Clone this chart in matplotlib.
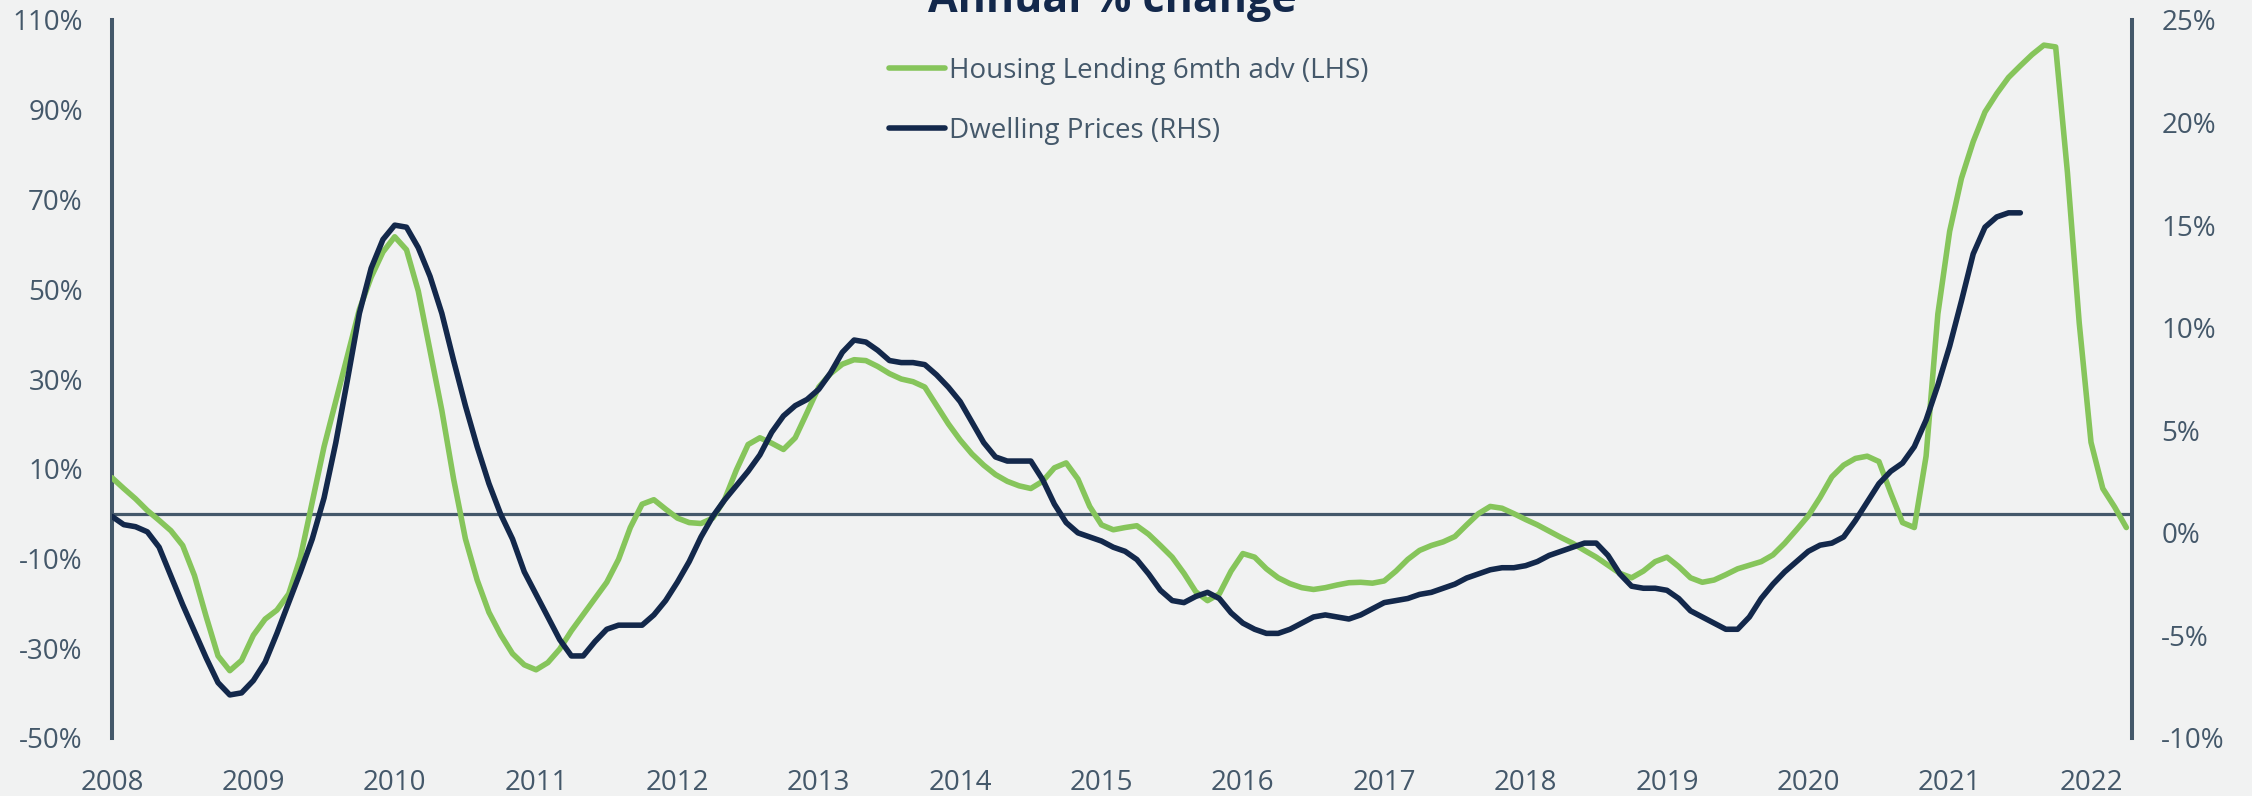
import numpy as np
import matplotlib
matplotlib.use('Agg')
import matplotlib.pyplot as plt

plt.rcParams['font.family'] = ['Open Sans', 'DejaVu Sans']

# monthly readings, first point = Jan 2008
lending = [8.0, 5.6, 3.3, 0.7, -1.5, -3.8, -7.1, -13.8, -23.0, -31.7, -35.0, -32.7,
           -27.1, -23.5, -21.5, -17.9, -9.7, 2.6, 14.9, 25.1, 35.3, 45.5, 52.7, 58.3,
           61.7, 58.8, 49.6, 36.3, 23.0, 7.7, -5.6, -14.8, -22.0, -27.0, -31.2, -33.7,
           -34.8, -33.2, -30.2, -26.1, -22.5, -18.9, -15.3, -10.2, -3.1, 2.1, 3.1, 1.0,
           -1.0, -2.0, -2.2, -1.0, 3.1, 9.7, 15.4, 16.9, 15.7, 14.3, 16.9, 22.5,
           28.2, 31.2, 33.3, 34.3, 34.1, 32.8, 31.2, 30.0, 29.4, 28.2, 24.1, 20.0,
           16.4, 13.3, 10.8, 8.7, 7.2, 6.2, 5.6, 7.2, 10.2, 11.3, 7.7, 1.6,
           -2.5, -3.6, -3.1, -2.7, -4.6, -7.1, -9.7, -13.3, -17.4, -19.4, -17.9, -12.8,
           -8.9, -9.7, -12.3, -14.3, -15.6, -16.5, -16.9, -16.5, -15.9, -15.4, -15.3, -15.5,
           -15.0, -12.8, -10.2, -8.2, -7.1, -6.3, -5.1, -2.5, 0.0, 1.6, 1.2, 0.0,
           -1.3, -2.5, -3.9, -5.3, -6.6, -8.2, -9.7, -11.5, -13.3, -14.3, -12.8, -10.7,
           -9.7, -11.8, -14.3, -15.3, -14.8, -13.6, -12.3, -11.5, -10.7, -9.2, -6.6, -3.6,
           -0.5, 3.6, 8.2, 10.8, 12.3, 12.8, 11.6, 4.6, -2.0, -3.1, 12.8, 44.5,
           62.9, 74.7, 82.9, 89.5, 93.6, 97.2, 99.8, 102.3, 104.4, 104.0, 76.0, 42.5,
           15.9, 5.6, 1.5, -3.1]

prices = [0.8, 0.4, 0.3, 0.05, -0.7, -2.1, -3.5, -4.8, -6.1, -7.3, -7.9, -7.8,
          -7.2, -6.3, -4.9, -3.4, -1.9, -0.3, 1.7, 4.4, 7.5, 10.7, 12.9, 14.3,
          15.0, 14.9, 13.9, 12.5, 10.7, 8.4, 6.2, 4.2, 2.4, 0.9, -0.3, -1.9,
          -3.0, -4.1, -5.2, -6.0, -6.0, -5.3, -4.7, -4.5, -4.5, -4.5, -4.0, -3.3,
          -2.4, -1.4, -0.2, 0.8, 1.6, 2.3, 3.0, 3.8, 4.9, 5.7, 6.2, 6.5,
          7.0, 7.8, 8.8, 9.4, 9.3, 8.9, 8.4, 8.3, 8.3, 8.2, 7.7, 7.1,
          6.4, 5.4, 4.4, 3.7, 3.5, 3.5, 3.5, 2.6, 1.4, 0.5, 0.0, -0.2,
          -0.4, -0.7, -0.9, -1.3, -2.0, -2.8, -3.3, -3.4, -3.1, -2.9, -3.2, -3.9,
          -4.4, -4.7, -4.9, -4.9, -4.7, -4.4, -4.1, -4.0, -4.1, -4.2, -4.0, -3.7,
          -3.4, -3.3, -3.2, -3.0, -2.9, -2.7, -2.5, -2.2, -2.0, -1.8, -1.7, -1.7,
          -1.6, -1.4, -1.1, -0.9, -0.7, -0.5, -0.5, -1.1, -2.0, -2.6, -2.7, -2.7,
          -2.8, -3.2, -3.8, -4.1, -4.4, -4.7, -4.7, -4.1, -3.2, -2.5, -1.9, -1.4,
          -0.9, -0.6, -0.5, -0.2, 0.6, 1.5, 2.4, 3.0, 3.4, 4.2, 5.5, 7.2,
          9.1, 11.3, 13.6, 14.9, 15.4, 15.6, 15.6]

years = list(range(2008, 2023))
left_ticks = [-50, -30, -10, 10, 30, 50, 70, 90, 110]
right_ticks = [-10, -5, 0, 5, 10, 15, 20, 25]

bg = '#F1F2F2'
green = '#86C55B'
navy = '#13284B'
grey = '#44586A'

x_lend = 2008 + np.arange(len(lending)) / 12
x_price = 2008 + np.arange(len(prices)) / 12

fig = plt.figure(figsize=(22.52, 7.96), dpi=100, facecolor=bg)
ax = fig.add_axes([112 / 2252, 1 - 738 / 796, (2132 - 112) / 2252, 718 / 796])
ax.set_facecolor(bg)
ax2 = ax.twinx()

ax.axhline(0, color=grey, lw=2.3, zorder=1)
l1, = ax.plot(x_lend, lending, color=green, lw=4.0, solid_capstyle='round',
              solid_joinstyle='round', label='Housing Lending 6mth adv (LHS)', zorder=3)
l2, = ax2.plot(x_price, prices, color=navy, lw=4.0, solid_capstyle='round',
               solid_joinstyle='round', label='Dwelling Prices (RHS)', zorder=3)

ax.set_xlim(2008, 2022.29)
ax.set_ylim(-50, 110)
ax2.set_ylim(-10, 25)

ax.set_xticks(years)
ax.set_xticklabels([str(y) for y in years])
ax.set_yticks(left_ticks)
ax.set_yticklabels([f'{v}%' for v in left_ticks])
ax2.set_yticks(right_ticks)
ax2.set_yticklabels([f'{v}%' for v in right_ticks])

for a in (ax, ax2):
    for s in ('top', 'bottom'):
        a.spines[s].set_visible(False)
ax.spines['right'].set_visible(False)
ax2.spines['left'].set_visible(False)
ax.spines['left'].set_color(grey)
ax.spines['left'].set_linewidth(2.9)
ax2.spines['right'].set_color(grey)
ax2.spines['right'].set_linewidth(2.9)

ax.tick_params(axis='y', length=0, pad=21, labelsize=20, labelcolor=grey)
ax.tick_params(axis='x', length=0, pad=22, labelsize=20, labelcolor=grey)
ax2.tick_params(axis='y', length=0, pad=21, labelsize=20, labelcolor=grey)

fig.legend(handles=[l1, l2], loc='upper left',
           bbox_to_anchor=(889 / 2252, 1 - 57 / 796), bbox_transform=fig.transFigure,
           frameon=False, fontsize=20, labelcolor=grey, handlelength=2.0,
           handletextpad=0.15, labelspacing=1.15, borderpad=0, borderaxespad=0)

fig.text(1112 / 2252, 1 - 12 / 796, 'Annual % change', ha='center', va='baseline',
         fontsize=31, fontweight='bold', color=navy)

fig.savefig('out.png', dpi=100, facecolor=bg)
